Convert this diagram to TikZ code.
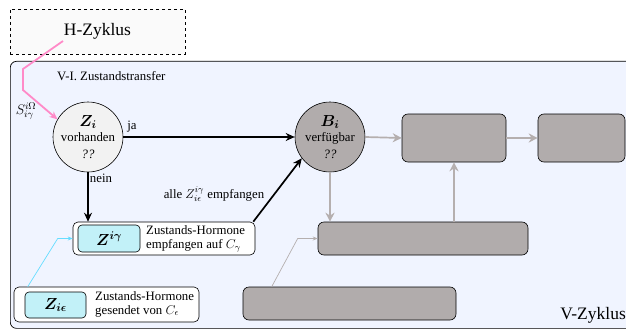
\RequirePackage{fix-cm}
\documentclass[tikz,border=0pt]{standalone}
\usepackage{amsmath}
\usepackage{bm}
\usepackage{fontspec}
\setmainfont{Liberation Serif}
\usetikzlibrary{arrows.meta,calc}
\definecolor{vbg}{HTML}{F0F4FF}
\definecolor{hbg}{HTML}{FAFAFA}
\definecolor{zifill}{HTML}{F2F2F2}
\definecolor{gfill}{HTML}{B1ACAC}
\definecolor{garrow}{HTML}{B5AFAF}
\definecolor{cyfill}{HTML}{C2F1F8}
\definecolor{cyline}{HTML}{66DDFF}
\definecolor{pinkline}{HTML}{FF8AC8}
\newcommand{\bigmath}{\fontsize{16}{18}\selectfont}
\tikzset{
  basefont/.style={font=\fontsize{12.8}{15.5}\selectfont},
  decision/.style={circle, draw, line width=0.6pt, minimum size=70pt, inner sep=0pt, align=center, basefont},
  greybox/.style={draw, line width=0.6pt, fill=gfill, rounded corners=6pt},
  outerbox/.style={draw, line width=0.6pt, fill=white, rounded corners=5pt},
  cybox/.style={draw, line width=0.6pt, fill=cyfill, rounded corners=4pt, font=\bigmath},
  blackarrow/.style={line width=1.7pt, -{Stealth[length=9pt,width=8pt]}},
  greyarrow/.style={draw=garrow, line width=1.7pt, -{Stealth[length=9pt,width=9pt]}},
  thinarrow/.style={draw=garrow, line width=0.7pt, -{Stealth[length=5pt,width=4pt]}},
  lbl/.style={basefont, inner sep=1pt},
}
\begin{document}
\begin{tikzpicture}[x=1pt,y=-1pt]
\useasboundingbox (0,0) rectangle (626,329);
% H-Zyklus
\node[draw, dashed, line width=0.7pt, fill=hbg, minimum width=175pt, minimum height=45pt, font=\fontsize{17.5}{20}\selectfont] (hz) at (97.5,31.5) {H-Zyklus};
% V-Zyklus background
\node[draw, line width=0.7pt, fill=vbg, rounded corners=6pt, minimum width=640pt, minimum height=267pt, anchor=north west] (vz) at (10,61) {};
\node[lbl, anchor=west] (title) at (56,76) {V-I. Zustandstransfer};
\node[font=\fontsize{17.5}{20}\selectfont, anchor=east, inner sep=0pt] (vzl) at (626,315) {V-Zyklus};
% circles
\node[decision, fill=zifill] (zi) at (88,137) {{\bigmath$\bm{Z_i}$}\\[0pt]vorhanden\\[1.5pt]\textit{??}};
\node[decision, fill=gfill] (bi) at (330,137) {{\bigmath$\bm{B_i}$}\\[0pt]verfügbar\\[1.5pt]\textit{??}};
% Z^{i gamma} box
\node[outerbox, minimum width=182pt, minimum height=33pt] (zgout) at (164,238.5) {};
\node[cybox, minimum width=62pt, minimum height=27pt] (zgin) at (109,238.5) {$\bm{Z^{i\gamma}}$};
\node[lbl, align=left, anchor=west, font=\fontsize{12.8}{14}\selectfont] (zgtxt) at (145,238.5) {Zustands-Hormone\\empfangen auf $C_\gamma$};
% Z_{i epsilon} box
\node[outerbox, minimum width=185pt, minimum height=35pt] (zeout) at (106.5,304.5) {};
\node[cybox, minimum width=61pt, minimum height=26pt] (zein) at (55.5,305) {$\bm{Z_{i\epsilon}}$};
\node[lbl, align=left, anchor=west, font=\fontsize{12.8}{14}\selectfont] (zetxt) at (94,304) {Zustands-Hormone\\gesendet von $C_\epsilon$};
% grey boxes
\node[greybox, minimum width=104pt, minimum height=48pt] (ga) at (454,138) {};
\node[greybox, minimum width=87pt, minimum height=48pt] (gb) at (581.5,138) {};
\node[greybox, minimum width=210pt, minimum height=33pt] (gc) at (423,238.5) {};
\node[greybox, minimum width=213pt, minimum height=33pt] (gd) at (349.5,303.5) {};
% pink connector
\coordinate (p0) at (63,41);
\coordinate (p1) at (23,69);
\coordinate (p2) at (23,90);
\draw[pinkline, line width=1.8pt, -{Stealth[length=8pt,width=7pt]}] (p0) -- (p1) -- (p2) -- (zi.150);
\node[lbl, font=\fontsize{14}{16}\selectfont] (slbl) at (26,111) {$S^{i\Omega}_{i\gamma}$};
% black arrows
\draw[blackarrow] (zi.east) -- (bi.west);
\node[lbl] (ja) at (132,127) {ja};
\draw[blackarrow] (zi.south) -- (zi.south |- zgout.north);
\node[lbl] (nein) at (101,178) {nein};
\draw[blackarrow] ([xshift=-2pt]zgout.north east) -- (bi.217);
\node[lbl] (alle) at (214,194) {alle $Z^{i\gamma}_{i\epsilon}$ empfangen};
% cyan arrow
\draw[cyline, line width=0.7pt, -{Stealth[length=5pt,width=4pt]}] ([xshift=14pt]zeout.north west) -- ([xshift=-15pt]zgout.west) -- (zgout.west);
% grey arrows
\draw[greyarrow] (bi.east) -- (ga.west);
\draw[greyarrow] (ga.east) -- (gb.west);
\draw[greyarrow] (bi.south) -- (bi.south |- gc.north);
\draw[greyarrow] (gc.north -| ga) -- (ga.south);
\draw[thinarrow] ([xshift=29pt]gd.north west) -- ([xshift=-20pt]gc.west) -- (gc.west);
\end{tikzpicture}
\end{document}
